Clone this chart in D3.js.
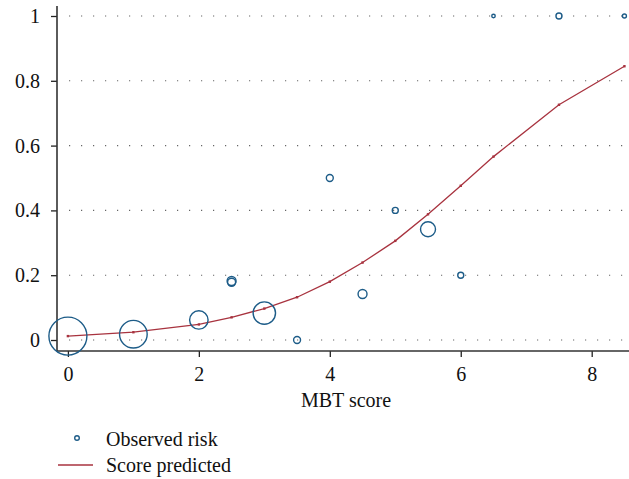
<!DOCTYPE html>
<html>
<head>
<meta charset="utf-8">
<script src="https://cdn.jsdelivr.net/npm/d3@7"></script>
<style>
  html, body { margin: 0; padding: 0; background: #fff; }
  svg { display: block; }
</style>
</head>
<body>
<svg id="chart" width="629" height="479"></svg>
<script>
// ---- data ----
const scoreX = [0, 1, 2, 2.5, 2.5, 3, 3.5, 4, 4.5, 5, 5.5, 6, 6.5, 7.5, 8.5];
const observedRisk = [0.012, 0.018, 0.062, 0.182, 0.178, 0.083, 0, 0.5, 0.142, 0.4, 0.342, 0.2, 1, 1, 1];
const observedCount = [360, 190, 85, 20, 16, 125, 12, 12, 20, 9, 56, 9, 3, 9, 4];

const predX = [0, 1, 2, 2.5, 3, 3.5, 4, 4.5, 5, 5.5, 6, 6.5, 7.5, 8.5];
const predictedRisk = [0.012, 0.024, 0.048, 0.07, 0.097, 0.132, 0.18, 0.239, 0.306, 0.388, 0.476, 0.566, 0.726, 0.845];

const xTicks = [0, 2, 4, 6, 8];
const yTicks = [0, 0.2, 0.4, 0.6, 0.8, 1];
const yTickLabels = ["0", "0.2", "0.4", "0.6", "0.8", "1"];
const xTitle = "MBT score";
const legendLabels = ["Observed risk", "Score predicted"];

// ---- layout ----
const svg = d3.select("#chart");
const blue = "#1d5c88";
const red = "#a8333f";
const fontSize = 20;
const FONT = '"Liberation Serif"';

const x = d3.scaleLinear().domain([0, 8]).range([67.9, 591.7]);
const y = d3.scaleLinear().domain([0, 1]).range([340, 16]);
const r = d3.scaleSqrt().domain([0, 360]).range([0, 19]);

const axisY = 351;   // x-axis line position
const axisX = 57;    // y-axis line position

function styleText(sel) {
  sel.attr("fill", "#111")
     .style("font-family", FONT).style("font-size", fontSize + "px");
}

// grid (dotted)
svg.append("g").selectAll("line").data(yTicks).join("line")
  .attr("x1", 69).attr("x2", 629)
  .attr("y1", d => y(d)).attr("y2", d => y(d))
  .attr("stroke", "#666").attr("stroke-width", 1.1)
  .attr("stroke-dasharray", "1.2 10.8");

// axes
const xAxis = d3.axisBottom(x).tickValues(xTicks).tickSize(6).tickPadding(6).tickFormat(d3.format("d"));
const gx = svg.append("g").attr("transform", `translate(0,${axisY})`).call(xAxis);
gx.select(".domain").remove();
gx.append("line").attr("x1", axisX - 0.5).attr("x2", 629).attr("y1", 0).attr("y2", 0)
  .attr("stroke", "#333").attr("stroke-width", 1.6);
gx.selectAll(".tick line").attr("stroke", "#222").attr("stroke-width", 1.3);
gx.selectAll(".tick text").attr("dy", null).attr("y", 30);

const yAxis = d3.axisLeft(y).tickValues(yTicks).tickSize(6).tickPadding(11)
  .tickFormat((d, i) => yTickLabels[i]);
const gy = svg.append("g").attr("transform", `translate(${axisX},0)`).call(yAxis);
gy.select(".domain").remove();
gy.append("line").attr("x1", 0).attr("x2", 0).attr("y1", 6).attr("y2", axisY)
  .attr("stroke", "#333").attr("stroke-width", 1.6);
gy.selectAll(".tick line").attr("stroke", "#222").attr("stroke-width", 1.3);
gy.selectAll(".tick text").attr("dy", null).attr("y", 6.5);

styleText(svg.selectAll(".tick text"));

// x title
styleText(svg.append("text").attr("x", 346).attr("y", 407)
  .attr("text-anchor", "middle").text(xTitle));

// predicted line
const line = d3.line().x((d, i) => x(predX[i])).y(d => y(d));
svg.append("path").datum(predictedRisk)
  .attr("d", line).attr("fill", "none").attr("stroke", red).attr("stroke-width", 1.3);
svg.append("g").selectAll("rect").data(predictedRisk).join("rect")
  .attr("x", (d, i) => x(predX[i]) - 1.2).attr("y", d => y(d) - 1.2)
  .attr("width", 2.4).attr("height", 2.4).attr("fill", red);

// observed circles
svg.append("g").selectAll("circle").data(observedRisk).join("circle")
  .attr("cx", (d, i) => x(scoreX[i])).attr("cy", d => y(d))
  .attr("r", (d, i) => r(observedCount[i]))
  .attr("fill", "none").attr("stroke", blue).attr("stroke-width", 1.4);

// legend
const leg = svg.append("g");
leg.append("circle").attr("cx", 77).attr("cy", 438).attr("r", 2.3)
  .attr("fill", "none").attr("stroke", blue).attr("stroke-width", 1.4);
styleText(leg.append("text").attr("x", 106).attr("y", 445.5).text(legendLabels[0]));
leg.append("line").attr("x1", 58).attr("x2", 93).attr("y1", 465).attr("y2", 465)
  .attr("stroke", red).attr("stroke-width", 1.3);
styleText(leg.append("text").attr("x", 106).attr("y", 471.5).text(legendLabels[1]));
</script>
</body>
</html>
